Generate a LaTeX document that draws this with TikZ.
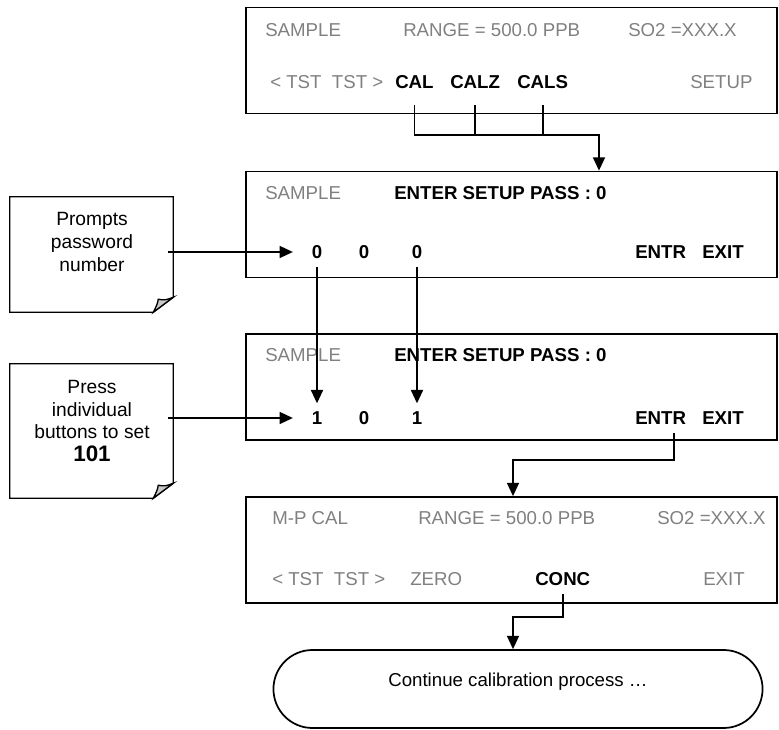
\documentclass[tikz,border=0pt]{standalone}
\usepackage{fontspec}
\setmainfont{Liberation Sans}
\usetikzlibrary{arrows.meta, positioning, shapes.misc, calc}
\definecolor{lcdtext}{HTML}{808080}
\definecolor{foldfill}{HTML}{C8C8C8}
\tikzset{
  screen/.style   = {draw, line width=1.3pt, minimum width=398.25pt,
                     minimum height=79.5pt, inner sep=0pt},
  dim/.style      = {text=lcdtext, anchor=west, inner xsep=0pt, inner ysep=6pt,
                     font=\fontsize{14}{17}\selectfont},
  key/.style      = {dim, text=black, font=\fontsize{14}{17}\selectfont\bfseries},
  digit/.style    = {key, anchor=center},
  note/.style     = {minimum width=122.25pt, inner sep=0pt},
  notetext/.style = {align=center, font=\fontsize{14.4}{16.9}\selectfont},
  term/.style     = {rounded rectangle, draw, line width=1.3pt,
                     minimum width=373.5pt, minimum height=58.5pt,
                     text height=10pt, text depth=13.4pt,
                     font=\fontsize{14}{17}\selectfont},
  wire/.style     = {line width=1.3pt},
  flow/.style     = {wire, -{Triangle[length=10pt, width=9pt]}},
}

\begin{document}
\begin{tikzpicture}[x=0.75pt, y=-0.75pt]
  \useasboundingbox (0,0) rectangle (779,730);

  % display screens
  \node[screen] (s1) at (511.5,60.5) {};
  \node[screen] (s2) at (511.5,224.5) {};
  \node[screen] (s3) at (511.5,387) {};
  \node[screen] (s4) at (511.5,550) {};

  % screen 1
  \node[dim] (smp1) at (265,30) {SAMPLE};
  \node[dim] (rng1) at (403,30) {RANGE = 500.0 PPB};
  \node[dim] (so1)  at (628,30) {SO2 =XXX.X};
  \node[dim] (tst1) at (270,82) {<~TST~~TST~>};
  \node[key, inner ysep=12pt] (cal)  at (395,82) {CAL};
  \node[key, inner ysep=12pt] (calz) at (450,82) {CALZ};
  \node[key, inner ysep=12pt] (cals) at (517,82) {CALS};
  \node[dim] (setup) at (690,82) {SETUP};

  % screen 2
  \node[dim] (smp2)  at (265,193) {SAMPLE};
  \node[key] (pass2) at (394,193) {ENTER SETUP PASS : 0};
  \node[digit] (z1) at (317,252) {0};
  \node[digit] (z2) at (364,252) {0};
  \node[digit] (z3) at (417,252) {0};
  \node[key] (entr2) at (635,252) {ENTR};
  \node[key] (exit2) at (702,252) {EXIT};

  % screen 3
  \node[dim] (smp3)  at (265,355) {SAMPLE};
  \node[key] (pass3) at (394,355) {ENTER SETUP PASS : 0};
  \node[digit] (o1) at (317,418) {1};
  \node[digit] (o2) at (364,418) {0};
  \node[digit] (o3) at (417,418) {1};
  \node[key] (entr3) at (635,418) {ENTR};
  \node[key] (exit3) at (702,418) {EXIT};

  % screen 4
  \node[dim] (mpcal) at (272,518) {M-P CAL};
  \node[dim] (rng4)  at (418,518) {RANGE = 500.0 PPB};
  \node[dim] (so4)   at (657,518) {SO2 =XXX.X};
  \node[dim] (tst4)  at (272,579) {<~TST~~TST~>};
  \node[dim] (zero)  at (410,579) {ZERO};
  \node[key] (conc)  at (535,579) {CONC};
  \node[dim] (exit4) at (703,579) {EXIT};

  % end of this procedure
  \node[term] (fin) at (518,689) {Continue calibration process …};

  % side notes
  \node[note, minimum height=86.25pt] (n1) at (91.5,254.5) {};
  \node[note, minimum height=100.5pt] (n2) at (91.5,431) {};
  \node[notetext] (n1txt) at (92,242) {Prompts\\password\\number};
  \node[notetext] (n2txt) at (92,421) {Press\\individual\\buttons to set\\
    {\fontsize{16.8}{20}\selectfont\bfseries 101}};
  \foreach \n in {n1,n2} {
    \draw[line width=1pt] (\n.north west) -- (\n.north east)
      -- ([yshift=11.25pt]\n.south east) -- ([xshift=-15pt]\n.south east)
      -- (\n.south west) -- cycle;
    \filldraw[fill=foldfill, line width=1pt] ([yshift=11.25pt]\n.south east)
      .. controls ([xshift=-6pt,yshift=9pt]\n.south east) .. ([xshift=-11.25pt,yshift=9.75pt]\n.south east)
      .. controls ([xshift=-12pt,yshift=6pt]\n.south east) .. ([xshift=-15pt]\n.south east) -- cycle;
  }

  % junction points
  \coordinate (k1) at (599,135);
  \coordinate (k2) at (513,460);
  \coordinate (k3) at (513,617);

  % connectors
  \draw[flow] (cal.south) |- (k1) -- (k1 |- s2.north);
  \draw[wire] (calz.south) -- (calz.south |- k1);
  \draw[wire] (cals.south) -- (cals.south |- k1);
  \draw[flow] ([xshift=-4pt]n1.east |- z1) -- ([xshift=-14pt]z1.west);
  \draw[flow] ([xshift=-4pt]n2.east |- o1) -- ([xshift=-14pt]o1.west);
  \draw[flow] (z1.south) -- (o1.north);
  \draw[flow] (z3.south) -- (o3.north);
  \draw[flow] ($(entr3.south)+(13,0)$) |- (k2) -- (k2 |- s4.north);
  \draw[flow] (conc.south) |- (k3) -- (k3 |- fin.north);
\end{tikzpicture}
\end{document}
